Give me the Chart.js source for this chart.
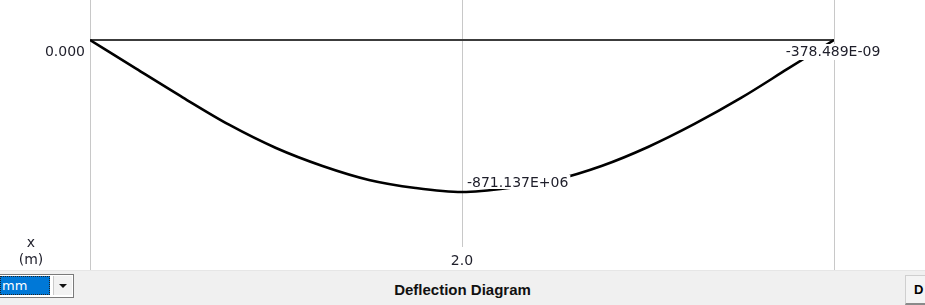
<!DOCTYPE html>
<html>
<head>
<meta charset="utf-8">
<script src="https://cdn.jsdelivr.net/npm/chart.js@4/dist/chart.umd.min.js"></script>
<style>
	body { margin: 0; width: 925px; height: 305px; overflow: hidden; background: #f0f0f0; font-family: "DejaVu Sans", sans-serif; }
	#plot { position: absolute; left: 0; top: 0; width: 925px; height: 270px; background: #fff; }
	#bar { position: absolute; left: 0; top: 270px; width: 925px; height: 35px; background: #f0f0f0; border-top: 1px solid #e6e6e6; }
	#combo { position: absolute; left: -2px; top: 3px; width: 74px; height: 22px; border: 1px solid #7a7a7a; background: #fff; }
	#sel { position: absolute; left: 1px; top: 1px; width: 50px; height: 19px; background: #0078d7; color: #fff; font-size: 13px; line-height: 19px; padding-left: 2px; box-sizing: border-box; outline: 1px dotted #222; outline-offset: -1px; }
	#arrow { position: absolute; right: 1px; top: 1px; width: 18px; height: 19px; background: #f2f2f2; border-left: 1px solid #c9c9c9; }
	#arrow:after { content: ""; position: absolute; left: 5px; top: 8px; border-left: 4px solid transparent; border-right: 4px solid transparent; border-top: 4px solid #111; }
	#title { position: absolute; left: 0; width: 925px; top: 10px; text-align: center; font: bold 15px "Liberation Sans", sans-serif; color: #111; }
	#btn { position: absolute; left: 905px; top: 4px; width: 26px; height: 30px; background: #f4f4f4; border: 1px solid #cfcfcf; border-bottom: 2px solid #8a8a8a; box-sizing: border-box; font: bold 13px "Liberation Sans", sans-serif; padding: 6px 0 0 8px; color: #000; }
</style>
</head>
<body>
<div id="plot"><canvas id="deflection-chart"></canvas></div>
<div id="bar">
	<div id="combo"><div id="sel">mm</div><div id="arrow"></div></div>
	<div id="title">Deflection Diagram</div>
	<div id="btn">D</div>
</div>
<script>
// beam position (m) and deflection
const xPos = [0, 0.25, 0.5, 0.75, 1.0, 1.25, 1.5, 1.75, 2.0, 2.25, 2.5, 2.75, 3.0, 3.25, 3.5, 3.75, 4.0];
const deflection = [0, -166, -330, -487, -619, -722, -802, -848, -871.137, -848, -802, -722, -613, -481, -332, -166, -0.000378489];

// labelled points
const markIndex = [8, 16];
const markLabels = ["-871.137E+06", "-378.489E-09"];

// axis ticks
const xTickValues = [0, 2, 4];
const xTickLabels = ["", "2.0", ""];
const yTickValues = [0];
const yTickLabels = ["0.000"];
const xAxisTitle = ["x", "(m)"];

const labelFont = '14px "DejaVu Sans"';

const labelPlugin = {
	id: "diagramLabels",
	afterDraw(chart) {
		let ctx = chart.ctx;
		let xs = chart.scales.x;
		let ys = chart.scales.y;
		ctx.save();
		ctx.font = labelFont;
		ctx.textBaseline = "middle";
		ctx.fillStyle = "#1e1e2a";

		// y tick labels
		ctx.textAlign = "right";
		for(let i = 0; i < yTickValues.length; i++) {
			ctx.fillText(yTickLabels[i], xs.left - 5, ys.getPixelForValue(yTickValues[i]) + 12);
		}

		// x tick labels
		ctx.textAlign = "center";
		for(let i = 0; i < xTickValues.length; i++) {
			if(!xTickLabels[i]) continue;
			let px = xs.getPixelForValue(xTickValues[i]);
			let w = ctx.measureText(xTickLabels[i]).width;
			ctx.fillStyle = "#fff";
			ctx.fillRect(px - w / 2 - 3, ys.bottom - 23, w + 6, 23);
			ctx.fillStyle = "#1e1e2a";
			ctx.fillText(xTickLabels[i], px, ys.bottom - 9);
		}

		// axis title
		ctx.fillText(xAxisTitle[0], 31, ys.bottom - 27);
		ctx.fillText(xAxisTitle[1], 31, ys.bottom - 10);

		// point labels
		for(let k = 0; k < markIndex.length; k++) {
			let idx = markIndex[k];
			let px = xs.getPixelForValue(xPos[idx]);
			let py = ys.getPixelForValue(deflection[idx]);
			let w = ctx.measureText(markLabels[k]).width;
			let tx, ty;
			if(k == 0) {
				tx = px + 5;
				ty = py - 9;
			} else {
				tx = px - w / 2 - 1;
				ty = py + 12;
			}
			ctx.fillStyle = "#fff";
			ctx.fillRect(tx - 1, ty - 8, w + 3, k == 0 ? 14 : 16);
			ctx.fillStyle = "#1e1e2a";
			ctx.textAlign = "left";
			ctx.fillText(markLabels[k], tx, ty);
		}
		ctx.restore();
	}
};

// zero position at 40px from the top of a 270px plot, minimum 152px below it
const unitsPerPx = 871.137 / 152;

let points = [];
for(let i = 0; i < xPos.length; i++) {
	points.push({ x: xPos[i], y: deflection[i] });
}

var ctx = document.getElementById("deflection-chart");
var chart = new Chart(ctx, {
	type: "scatter",
	data: {
		datasets: [{
			label: "Deflection",
			data: points,
			showLine: true,
			borderColor: "#000",
			borderWidth: 2.6,
			pointRadius: 0,
			cubicInterpolationMode: "monotone",
			fill: false
		}, {
			label: "Beam",
			data: [{ x: xPos[0], y: 0 }, { x: xPos[xPos.length - 1], y: 0 }],
			showLine: true,
			borderColor: "#3c3c3c",
			borderWidth: 2,
			pointRadius: 0,
			fill: false
		}]
	},
	options: {
		responsive: true,
		maintainAspectRatio: false,
		animation: false,
		layout: { padding: { left: 90, right: 91, top: 0, bottom: 0 } },
		plugins: { legend: { display: false }, tooltip: { enabled: false } },
		scales: {
			x: {
				type: "linear",
				min: 0,
				max: 4,
				afterBuildTicks: (axis) => { axis.ticks = xTickValues.map(v => ({ value: v })); },
				ticks: { display: false },
				grid: { color: "#c8c8c8", lineWidth: 1, drawTicks: false },
				border: { display: false }
			},
			y: {
				display: false,
				min: -230 * unitsPerPx,
				max: 40 * unitsPerPx
			}
		}
	},
	plugins: [labelPlugin]
});
</script>
</body>
</html>
